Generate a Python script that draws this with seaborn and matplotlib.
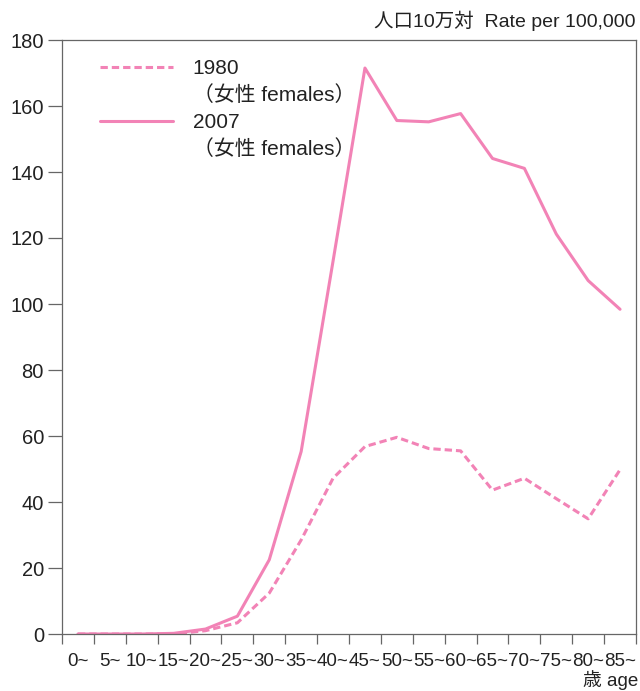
import numpy as np
import pandas as pd
import matplotlib
matplotlib.use("Agg")
import matplotlib.pyplot as plt
from matplotlib.lines import Line2D
import seaborn as sns

# ── Data ───────────────────────────────────────────────────────
age_labels = ["0~", "5~", "10~", "15~", "20~", "25~", "30~", "35~", "40~",
              "45~", "50~", "55~", "60~", "65~", "70~", "75~", "80~", "85~"]
rate_1980 = [0, 0, 0, 0, 1.0, 3.4, 12.4, 28.5, 47.2,
             56.8, 59.6, 56.2, 55.5, 43.6, 47.2, 41.0, 34.9, 49.8]
rate_2007 = [0, 0, 0, 0.2, 1.5, 5.4, 22.5, 55.3, 113.0,
             171.5, 155.6, 155.2, 157.7, 144.1, 141.1, 121.2, 107.1, 98.4]
years = ["1980", "2007"]
legend_sub = "（女性 females）"
pink = "#F283B6"
grey = "#666666"
dash = (2.4, 1.3)

n = len(age_labels)
df = pd.DataFrame({
    "pos": np.tile(np.arange(n) + 0.5, 2),
    "rate": rate_1980 + rate_2007,
    "year": np.repeat(years, n),
})

sns.set_style("white")
plt.rcParams["font.family"] = ["Liberation Sans", "Noto Sans CJK JP", "DejaVu Sans"]

fig = plt.figure(figsize=(6.4, 6.91), dpi=100)
ax = fig.add_axes([62 / 640, 57 / 691, 574 / 640, 594 / 691])

sns.lineplot(data=df, x="pos", y="rate", hue="year", style="year",
             palette={"1980": pink, "2007": pink},
             dashes={"1980": dash, "2007": ""},
             linewidth=2.2, sort=False, legend=False, ax=ax)

ax.set_xlim(0, n)
ax.set_ylim(0, 180)
ax.set_yticks(np.arange(0, 181, 20))
ax.set_xticks(np.arange(0, n + 1))
ax.set_xticklabels([])
ax.set_xticks(np.arange(n) + 0.5, minor=True)
ax.set_xticklabels(age_labels, minor=True, family=["Liberation Sans Narrow", "Liberation Sans"])
ax.tick_params(axis="x", which="major", direction="out", length=7, width=0.9,
               color=grey, bottom=True)
ax.tick_params(axis="x", which="minor", length=0, pad=13.5, labelsize=13.5,
               labelcolor="#222222")
ax.tick_params(axis="y", direction="out", length=10, width=0.9, color=grey,
               pad=3, labelsize=14.5, labelcolor="#222222", left=True)
ax.set_xlabel("")
ax.set_ylabel("")
for s in ax.spines.values():
    s.set_color(grey)
    s.set_linewidth(0.9)

# legend: four rows, blank handles for the sub-labels
h1980 = Line2D([], [], color=pink, linewidth=2.2, dashes=dash)
h2007 = Line2D([], [], color=pink, linewidth=2.2)
blank = Line2D([], [], alpha=0)
ax.legend([h1980, blank, h2007, blank],
          [years[0], legend_sub, years[1], legend_sub],
          loc="upper left", bbox_to_anchor=(0.066, 0.968), frameon=False,
          borderpad=0, borderaxespad=0, handlelength=3.5, handletextpad=0.95,
          labelspacing=0.36, prop={"size": 15}, labelcolor="#222222")

fig.text(636 / 640, 1 - 21 / 691, "人口10万対  Rate per 100,000",
         ha="right", va="center", fontsize=14, color="#222222")
fig.text(638 / 640, 1 - 680 / 691, "歳 age", ha="right", va="center",
         fontsize=13.5, color="#222222")

fig.savefig("out.png", dpi=100)
